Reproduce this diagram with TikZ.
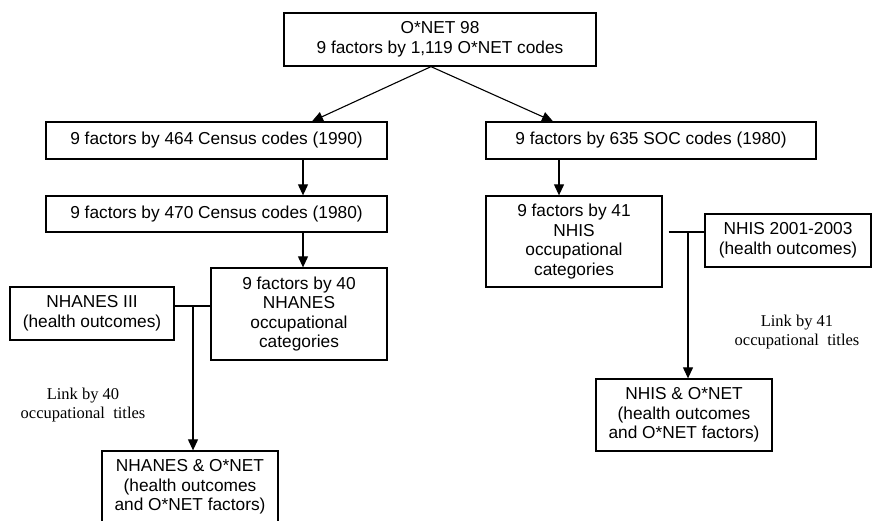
\documentclass[tikz,border=0pt]{standalone}
\usepackage{fontspec}
\setmainfont{Liberation Sans}
\newfontfamily\tnr{Liberation Serif}
\usetikzlibrary{arrows.meta,calc}
\begin{document}
\begin{tikzpicture}[x=1pt,y=-1pt,
  box/.style={draw, line width=1.3pt, inner sep=0pt, align=center,
    font=\fontsize{17.3}{19.6}\selectfont},
  arr/.style={line width=1.1pt, -{Triangle[length=11pt,width=10pt]}},
  conn/.style={line width=1.1pt},
  lnk/.style={align=center, inner sep=0pt, font=\tnr\fontsize{16.5}{19}\selectfont}]
\useasboundingbox (0,0) rectangle (874,521);
% boxes
\node[box, minimum width=312pt, minimum height=53pt] (top) at (440,39.5)
  {O*NET 98\\9 factors by 1,119 O*NET codes};
\node[box, minimum width=341pt, minimum height=37pt] (c90) at (216.5,140.5)
  {9 factors by 464 Census codes (1990)};
\node[box, minimum width=341pt, minimum height=36pt] (c80) at (216.5,214)
  {9 factors by 470 Census codes (1980)};
\node[box, minimum width=176pt, minimum height=92pt] (nh40) at (299,314)
  {9 factors by 40\\NHANES\\occupational\\categories};
\node[box, minimum width=164pt, minimum height=53pt] (nh3) at (92,313.5)
  {NHANES III\\(health outcomes)};
\node[box, minimum width=176pt, minimum height=72pt] (nhon) at (190,487)
  {NHANES \& O*NET\\(health outcomes\\and O*NET factors)};
\node[box, minimum width=330pt, minimum height=37pt] (soc) at (651,140.5)
  {9 factors by 635 SOC codes (1980)};
\node[box, minimum width=176pt, minimum height=91pt] (nhis41) at (574,241.5)
  {9 factors by 41\\NHIS\\occupational\\categories};
\node[box, minimum width=166pt, minimum height=53pt] (nhis01) at (788,240.5)
  {NHIS 2001-2003\\(health outcomes)};
\node[box, minimum width=176pt, minimum height=72pt] (nhison) at (684,415)
  {NHIS \& O*NET\\(health outcomes\\and O*NET factors)};
% labels
\node[lnk] (l40) at (83,405.5) {Link by 40\\occupational\ \ titles};
\node[lnk] (l41) at (797,332.5) {Link by 41\\occupational\ \ titles};
% connectors
\draw[arr] ([xshift=-9pt]top.south) -- ([xshift=95.5pt]c90.north);
\draw[arr] ([xshift=-9pt]top.south) -- ([xshift=-98pt]soc.north);
\draw[arr] ([xshift=86.5pt]c90.south) -- ([xshift=86.5pt]c80.north);
\draw[arr] ([xshift=86.5pt]c80.south) coordinate (a1) -- (a1 |- nh40.north);
\draw[arr] ([xshift=-92pt]soc.south) coordinate (a2) -- (a2 |- nhis41.north);
\coordinate (j1) at (193,306);
\draw[conn] (nh3.east |- j1) -- (nh40.west |- j1);
\draw[arr] (j1) -- (j1 |- nhon.north);
\coordinate (j2) at (688,232);
\draw[conn] ([xshift=6pt]nhis41.east |- j2) -- (nhis01.west |- j2);
\draw[arr] (j2) -- (j2 |- nhison.north);
\end{tikzpicture}
\end{document}
